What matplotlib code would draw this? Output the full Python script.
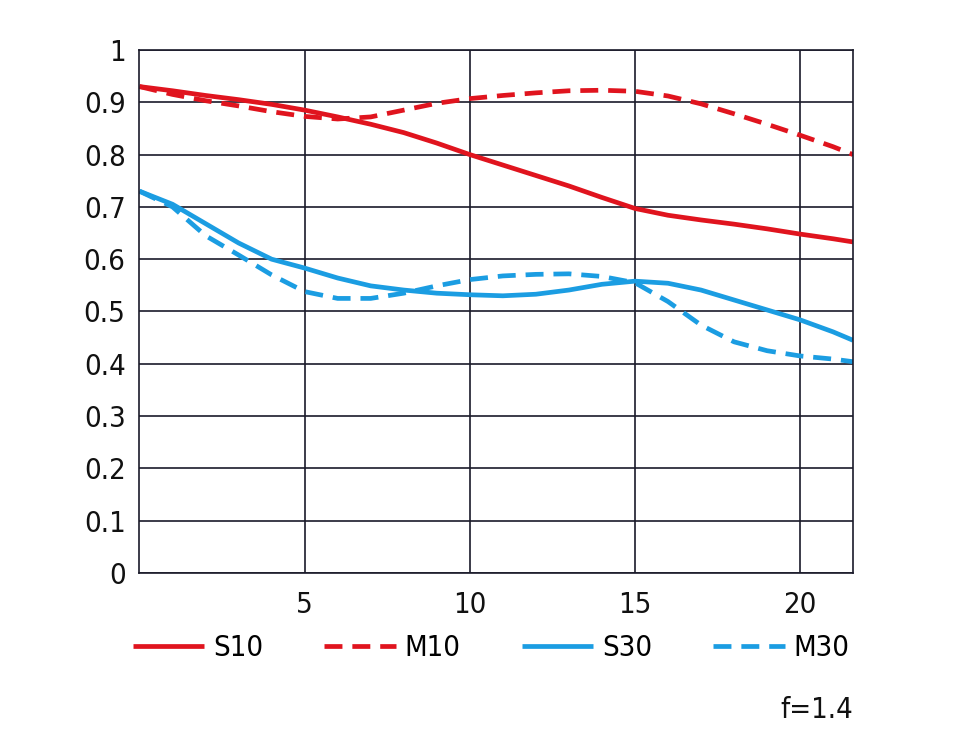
import matplotlib
matplotlib.use("Agg")
import matplotlib.pyplot as plt

plt.rcParams['font.family'] = ['DejaVu Sans']
plt.rcParams['font.stretch'] = 'condensed'

# field position (mm) and MTF values
x = [0, 1, 2, 3, 4, 5, 6, 7, 8, 9, 10, 11, 12, 13, 14, 15, 16, 17, 18, 19, 20, 21, 21.6]
s10 = [0.930, 0.922, 0.913, 0.905, 0.896, 0.885, 0.872, 0.858, 0.842, 0.822, 0.800, 0.780,
       0.760, 0.740, 0.718, 0.697, 0.684, 0.675, 0.667, 0.658, 0.648, 0.639, 0.633]
m10 = [0.930, 0.915, 0.903, 0.893, 0.882, 0.873, 0.868, 0.872, 0.885, 0.898, 0.907, 0.913,
       0.918, 0.922, 0.923, 0.921, 0.912, 0.897, 0.878, 0.858, 0.837, 0.815, 0.800]
s30 = [0.730, 0.705, 0.668, 0.631, 0.600, 0.583, 0.564, 0.549, 0.541, 0.535, 0.532, 0.530,
       0.533, 0.541, 0.552, 0.558, 0.554, 0.541, 0.522, 0.503, 0.484, 0.461, 0.445]
m30 = [0.730, 0.700, 0.645, 0.608, 0.570, 0.538, 0.525, 0.525, 0.535, 0.549, 0.561, 0.568,
       0.571, 0.572, 0.567, 0.555, 0.519, 0.474, 0.442, 0.425, 0.415, 0.409, 0.404]

labels = ['S10', 'M10', 'S30', 'M30']
xticks = [5, 10, 15, 20]
yticks = [0, 0.1, 0.2, 0.3, 0.4, 0.5, 0.6, 0.7, 0.8, 0.9, 1]
ytick_labels = ['0', '0.1', '0.2', '0.3', '0.4', '0.5', '0.6', '0.7', '0.8', '0.9', '1']

red = '#e0141e'
blue = '#1b9de2'

fig = plt.figure(figsize=(9.6, 7.37), dpi=100)
ax = fig.add_axes([0.1453, 0.2225, 0.7432, 0.7097])

lw = 3.4
dash = (3.8, 2.1)
ax.plot(x, s10, color=red, lw=lw, label=labels[0], solid_capstyle='butt', solid_joinstyle='round')
ax.plot(x, m10, color=red, lw=lw, dashes=dash, label=labels[1])
ax.plot(x, s30, color=blue, lw=lw, label=labels[2], solid_capstyle='butt', solid_joinstyle='round')
ax.plot(x, m30, color=blue, lw=lw, dashes=dash, label=labels[3])

ax.set_xlim(0, 21.6)
ax.set_ylim(0, 1)
ax.set_xticks(xticks)
ax.set_xticklabels([str(t) for t in xticks])
ax.set_yticks(yticks)
ax.set_yticklabels(ytick_labels)
ax.grid(True, color='#1a1a2a', lw=1.2)
ax.set_axisbelow(True)
for s in ax.spines.values():
    s.set_color('#1a1a2a')
    s.set_linewidth(1.2)
ax.tick_params(length=0, labelsize=21, colors='#111111')
ax.tick_params(axis='x', pad=13)
ax.tick_params(axis='y', pad=10)

fig.legend(loc='center left', bbox_to_anchor=(0.126, 0.121), ncol=4, frameon=False,
           fontsize=21, handlelength=2.45, handletextpad=0.3, columnspacing=2.1,
           borderaxespad=0)

fig.text(0.8885, 0.037, 'f=1.4', ha='right', va='center', fontsize=21, color='#111111')

fig.savefig('out.png', dpi=100, facecolor='white')
